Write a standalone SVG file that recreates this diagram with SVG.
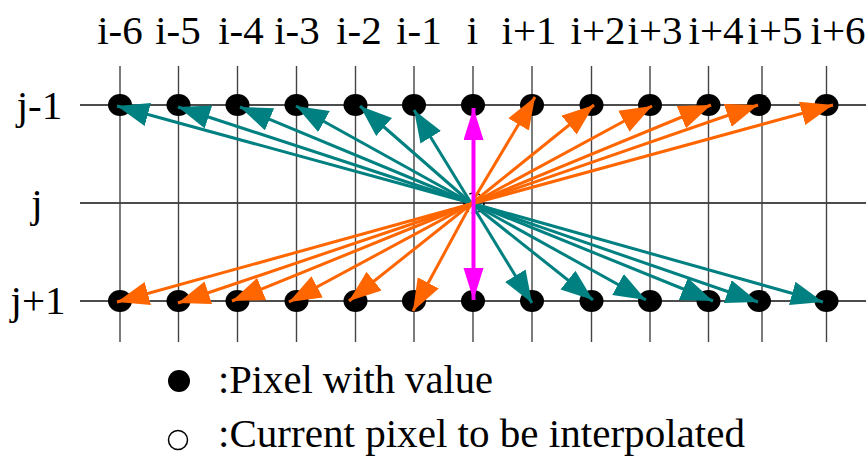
<svg xmlns="http://www.w3.org/2000/svg" width="868" height="457" viewBox="0 0 868 457">
<style>
.lbl{font-family:"Liberation Serif","Times New Roman",serif;font-size:41px;fill:#000;text-anchor:middle}
.leg{font-family:"Liberation Serif","Times New Roman",serif;font-size:41px;fill:#000}
.gv{stroke:#444;stroke-width:1.4}
.gh{stroke:#111;stroke-width:1.3}
.dot{fill:#000}
.teal{stroke:#008080;stroke-width:3;fill:none;marker-end:url(#ht)}
.orange{stroke:#FF6600;stroke-width:3;fill:none;marker-end:url(#ho)}
.mag{stroke:#FF00FF;stroke-width:4;fill:none;marker-end:url(#hm)}
</style>
<defs>
<marker id="ht" markerUnits="userSpaceOnUse" markerWidth="34" markerHeight="26" refX="32" refY="12" orient="auto" viewBox="0 0 34 26"><path d="M0,0 L32,12 L0,24 z" fill="#008080"/></marker>
<marker id="ho" markerUnits="userSpaceOnUse" markerWidth="34" markerHeight="26" refX="32" refY="12" orient="auto" viewBox="0 0 34 26"><path d="M0,0 L32,12 L0,24 z" fill="#FF6600"/></marker>
<marker id="hm" markerUnits="userSpaceOnUse" markerWidth="34" markerHeight="22" refX="32" refY="10" orient="auto" viewBox="0 0 34 22"><path d="M0,0 L32,10 L0,20 z" fill="#FF00FF"/></marker>
</defs>
<rect width="868" height="457" fill="#fff"/>
<g id="labels">
<text class="lbl" x="120" y="44">i-6</text>
<text class="lbl" x="178" y="44">i-5</text>
<text class="lbl" x="241" y="44">i-4</text>
<text class="lbl" x="297" y="44">i-3</text>
<text class="lbl" x="359" y="44">i-2</text>
<text class="lbl" x="419" y="44">i-1</text>
<text class="lbl" x="472.5" y="44">i</text>
<text class="lbl" x="529" y="44">i+1</text>
<text class="lbl" x="598" y="44">i+2</text>
<text class="lbl" x="655" y="44">i+3</text>
<text class="lbl" x="716" y="44">i+4</text>
<text class="lbl" x="775" y="44">i+5</text>
<text class="lbl" x="838" y="44">i+6</text>
<text class="lbl" x="39.5" y="119">j-1</text>
<text class="lbl" x="37" y="217">j</text>
<text class="lbl" x="38" y="314">j+1</text>
</g>
<g id="grid">
<line class="gh" x1="80" y1="105" x2="866" y2="105"/>
<line class="gh" x1="80" y1="203" x2="866" y2="203"/>
<line class="gh" x1="80" y1="301" x2="866" y2="301"/>
<line class="gv" x1="120" y1="66" x2="120" y2="342"/>
<line class="gv" x1="178.5" y1="66" x2="178.5" y2="342"/>
<line class="gv" x1="237.5" y1="66" x2="237.5" y2="342"/>
<line class="gv" x1="296.5" y1="66" x2="296.5" y2="342"/>
<line class="gv" x1="355.5" y1="66" x2="355.5" y2="342"/>
<line class="gv" x1="414" y1="66" x2="414" y2="342"/>
<line class="gv" x1="473" y1="66" x2="473" y2="342"/>
<line class="gv" x1="532" y1="66" x2="532" y2="342"/>
<line class="gv" x1="591.5" y1="66" x2="591.5" y2="342"/>
<line class="gv" x1="650" y1="66" x2="650" y2="342"/>
<line class="gv" x1="708.5" y1="66" x2="708.5" y2="342"/>
<line class="gv" x1="762" y1="66" x2="762" y2="342"/>
<line class="gv" x1="826.5" y1="66" x2="826.5" y2="342"/>
</g>
<g id="row-j-1">
<g id="p-jm1-im6"><ellipse class="dot" cx="120" cy="105" rx="12" ry="11"/></g>
<g id="p-jm1-im5"><ellipse class="dot" cx="178.5" cy="105" rx="12" ry="11"/></g>
<g id="p-jm1-im4"><ellipse class="dot" cx="237.5" cy="105" rx="12" ry="11"/></g>
<g id="p-jm1-im3"><ellipse class="dot" cx="296.5" cy="105" rx="12" ry="11"/></g>
<g id="p-jm1-im2"><ellipse class="dot" cx="355.5" cy="105" rx="12" ry="11"/></g>
<g id="p-jm1-im1"><ellipse class="dot" cx="414" cy="105" rx="12" ry="11"/></g>
<g id="p-jm1-i"><ellipse class="dot" cx="473" cy="105" rx="12" ry="11"/></g>
<g id="p-jm1-ip1"><ellipse class="dot" cx="532" cy="105" rx="12" ry="11"/></g>
<g id="p-jm1-ip2"><ellipse class="dot" cx="591.5" cy="105" rx="12" ry="11"/></g>
<g id="p-jm1-ip3"><ellipse class="dot" cx="650" cy="105" rx="12" ry="11"/></g>
<g id="p-jm1-ip4"><ellipse class="dot" cx="708.5" cy="105" rx="12" ry="11"/></g>
<g id="p-jm1-ip5"><ellipse class="dot" cx="759" cy="105" rx="12" ry="11"/></g>
<g id="p-jm1-ip6"><ellipse class="dot" cx="826.5" cy="105" rx="12" ry="11"/></g>
</g>
<g id="row-j+1">
<g id="p-jp1-im6"><ellipse class="dot" cx="120" cy="301" rx="12" ry="11"/></g>
<g id="p-jp1-im5"><ellipse class="dot" cx="178.5" cy="301" rx="12" ry="11"/></g>
<g id="p-jp1-im4"><ellipse class="dot" cx="237.5" cy="301" rx="12" ry="11"/></g>
<g id="p-jp1-im3"><ellipse class="dot" cx="296.5" cy="301" rx="12" ry="11"/></g>
<g id="p-jp1-im2"><ellipse class="dot" cx="355.5" cy="301" rx="12" ry="11"/></g>
<g id="p-jp1-im1"><ellipse class="dot" cx="414" cy="301" rx="12" ry="11"/></g>
<g id="p-jp1-i"><ellipse class="dot" cx="473" cy="301" rx="12" ry="11"/></g>
<g id="p-jp1-ip1"><ellipse class="dot" cx="532" cy="301" rx="12" ry="11"/></g>
<g id="p-jp1-ip2"><ellipse class="dot" cx="591.5" cy="301" rx="12" ry="11"/></g>
<g id="p-jp1-ip3"><ellipse class="dot" cx="650" cy="301" rx="12" ry="11"/></g>
<g id="p-jp1-ip4"><ellipse class="dot" cx="708.5" cy="301" rx="12" ry="11"/></g>
<g id="p-jp1-ip5"><ellipse class="dot" cx="759" cy="301" rx="12" ry="11"/></g>
<g id="p-jp1-ip6"><ellipse class="dot" cx="826.5" cy="301" rx="12" ry="11"/></g>
</g>
<g id="current">
<circle cx="474" cy="203" r="10" fill="none" stroke="#000" stroke-width="1.6" stroke-dasharray="4 3"/>
</g>
<g id="connectors">
<line class="teal" x1="471" y1="203" x2="117" y2="106"/>
<line class="teal" x1="471" y1="203" x2="178" y2="107"/>
<line class="teal" x1="471" y1="203" x2="240" y2="107"/>
<line class="teal" x1="471" y1="203" x2="296" y2="106"/>
<line class="teal" x1="471" y1="203" x2="360" y2="106"/>
<line class="teal" x1="471" y1="203" x2="414" y2="110"/>
<line class="teal" x1="471" y1="203" x2="532" y2="303"/>
<line class="teal" x1="471" y1="203" x2="593" y2="300"/>
<line class="teal" x1="471" y1="203" x2="646" y2="300"/>
<line class="teal" x1="471" y1="203" x2="713" y2="301"/>
<line class="teal" x1="471" y1="203" x2="758" y2="302"/>
<line class="teal" x1="471" y1="203" x2="823" y2="302"/>
<line class="orange" x1="471" y1="204" x2="535" y2="97"/>
<line class="orange" x1="471" y1="204" x2="594" y2="105"/>
<line class="orange" x1="471" y1="204" x2="652" y2="106"/>
<line class="orange" x1="471" y1="204" x2="711" y2="105"/>
<line class="orange" x1="471" y1="204" x2="758" y2="105"/>
<line class="orange" x1="471" y1="204" x2="833" y2="105"/>
<line class="orange" x1="471" y1="204" x2="117" y2="302"/>
<line class="orange" x1="471" y1="204" x2="178" y2="303"/>
<line class="orange" x1="471" y1="204" x2="232" y2="301"/>
<line class="orange" x1="471" y1="204" x2="289" y2="302"/>
<line class="orange" x1="471" y1="204" x2="349" y2="301"/>
<line class="orange" x1="471" y1="204" x2="413" y2="311"/>
<line class="mag" x1="473.5" y1="203" x2="473.5" y2="108"/>
<line class="mag" x1="473.5" y1="203" x2="473.5" y2="300"/>
</g>
<g id="legend">
<ellipse cx="179" cy="381" rx="11" ry="11" fill="#000"/>
<text class="leg" x="218" y="393" textLength="275" lengthAdjust="spacingAndGlyphs">:Pixel with value</text>
<circle cx="178" cy="440" r="9.5" fill="none" stroke="#000" stroke-width="1.5"/>
<text class="leg" x="218" y="447" textLength="527" lengthAdjust="spacingAndGlyphs">:Current pixel to be interpolated</text>
</g>
</svg>
